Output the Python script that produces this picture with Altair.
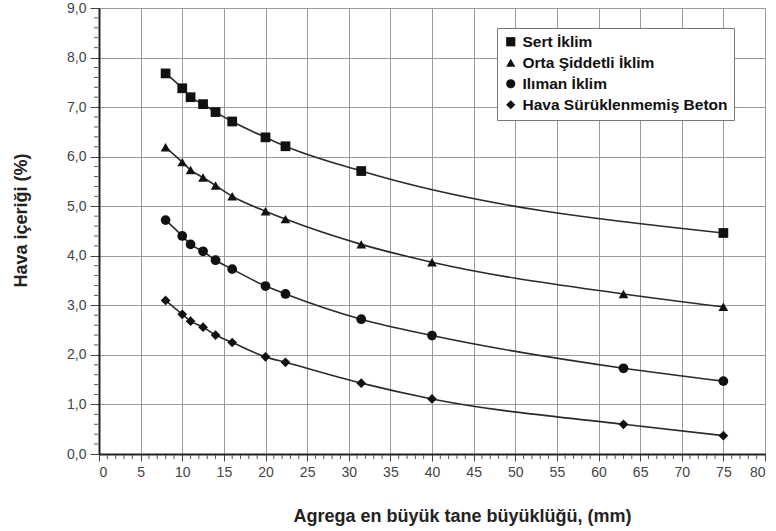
import altair as alt
import pandas as pd

series_names = ["Sert İklim", "Orta Şiddetli İklim", "Ilıman İklim", "Hava Sürüklenmemiş Beton"]
shapes = ["square", "triangle-up", "circle", "diamond"]

x_sert = [8, 10, 11, 12.5, 14, 16, 20, 22.4, 31.5, 75]
y_sert = [7.68, 7.38, 7.20, 7.06, 6.90, 6.71, 6.39, 6.21, 5.71, 4.46]

x_full = [8, 10, 11, 12.5, 14, 16, 20, 22.4, 31.5, 40, 63, 75]
y_orta = [6.19, 5.89, 5.73, 5.58, 5.42, 5.20, 4.90, 4.74, 4.23, 3.87, 3.23, 2.97]
y_iliman = [4.72, 4.40, 4.23, 4.09, 3.91, 3.73, 3.39, 3.23, 2.72, 2.39, 1.73, 1.47]
y_hava = [3.10, 2.82, 2.68, 2.56, 2.40, 2.25, 1.96, 1.85, 1.43, 1.11, 0.60, 0.37]

x_major = list(range(0, 81, 5))
y_major = list(range(0, 10, 1))
x_minor = [v for v in range(0, 81) if v % 5 != 0]
y_minor = [round(i * 0.2, 1) for i in range(0, 46) if i % 5 != 0]

rows = []
for xs, ys, name in [(x_sert, y_sert, series_names[0]), (x_full, y_orta, series_names[1]),
                     (x_full, y_iliman, series_names[2]), (x_full, y_hava, series_names[3])]:
    for a, b in zip(xs, ys):
        rows.append({"x": a, "y": b, "s": name})
df = pd.DataFrame(rows)

FONT = "Liberation Sans"
W, H = 666, 446
xscale = alt.Scale(domain=[0, 80], nice=False, zero=False)
yscale = alt.Scale(domain=[0, 9], nice=False, zero=False)

x_axis = alt.Axis(orient="bottom", values=x_major, tickSize=7, tickColor="#444",
                  domainColor="#222", domainWidth=2, grid=True, gridColor="#9a9a9a",
                  gridWidth=1, labelFont=FONT, labelFontSize=14, labelColor="#444",
                  labelPadding=4, titleFont=FONT, titleFontSize=18,
                  titleFontWeight="bold", titleColor="#222", titlePadding=28,
                  titleX=363)
y_axis = alt.Axis(orient="left", values=y_major, tickSize=9, tickColor="#444",
                  domainColor="#222", domainWidth=2, grid=True, gridColor="#9a9a9a",
                  gridWidth=1, labelFont=FONT, labelFontSize=14, labelColor="#444",
                  labelExpr="replace(format(datum.value, '.1f'), '.', ',')",
                  labelPadding=4, titleFont=FONT, titleFontSize=18,
                  titleFontWeight="bold", titleColor="#222", titlePadding=36,
                  titleY=212)

X = alt.X("x:Q", scale=xscale, title="Agrega en büyük tane büyüklüğü, (mm)", axis=x_axis)
Y = alt.Y("y:Q", scale=yscale, title="Hava içeriği (%)", axis=y_axis)

lines = alt.Chart(df).mark_line(interpolate="monotone", color="#2a2a2a", strokeWidth=1.6).encode(
    x=X, y=Y, detail="s:N")

points = alt.Chart(df).mark_point(filled=True, opacity=1, color="#111", size=95).encode(
    x=X, y=Y,
    shape=alt.Shape("s:N", scale=alt.Scale(domain=series_names, range=shapes),
                    legend=alt.Legend(title=None, orient="none", legendX=398, legendY=20,
                                      labelFont=FONT, labelFontSize=15.5, labelFontWeight="bold",
                                      labelColor="#111", symbolSize=85, symbolFillColor="#111",
                                      symbolStrokeColor="#111",
                                      padding=6, rowPadding=4, strokeColor="#777",
                                      fillColor="white", labelLimit=400, offset=0)))

xminor = alt.Chart(pd.DataFrame({"x": x_minor})).mark_rule(color="#555", strokeWidth=1, clip=False).encode(
    x=X, y=alt.value(H + 1), y2=alt.value(H + 5))
yminor = alt.Chart(pd.DataFrame({"y": y_minor})).mark_rule(color="#555", strokeWidth=1, clip=False).encode(
    y=Y, x=alt.value(-5), x2=alt.value(-1))

chart = alt.layer(lines, points, xminor, yminor).properties(
    width=W, height=H,
    autosize=alt.AutoSizeParams(type="none"),
    padding={"left": 99, "top": 8, "right": 11, "bottom": 77},
).configure_view(stroke="#222", strokeWidth=2).configure(background="white")

chart.save("out.html", embed_options={"renderer": "svg", "actions": False})
